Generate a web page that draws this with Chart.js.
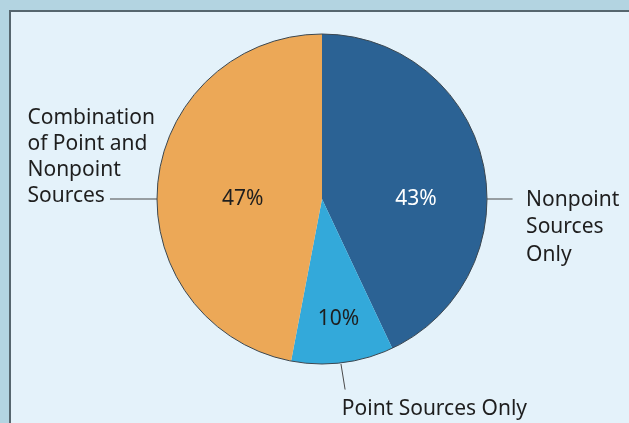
<!DOCTYPE html>
<html>
<head>
<meta charset="utf-8">
<script src="https://cdn.jsdelivr.net/npm/chart.js@4"></script>
<style>
  html, body { margin: 0; padding: 0; }
  body { width: 629px; height: 423px; background: #b3d4e1; position: relative; overflow: hidden; }
  #panel { position: absolute; left: 9px; top: 10px; right: -5px; bottom: -5px; background: #e4f2fa;
           border-left: 2px solid #56666e; border-top: 2px solid #56666e; }
  #wrap { position: absolute; left: 0; top: 0; width: 629px; height: 423px; }
</style>
</head>
<body>
<div id="panel"></div>
<div id="wrap"><canvas id="pie"></canvas></div>
<script>
const categories = ['Nonpoint Sources Only', 'Point Sources Only', 'Combination of Point and Nonpoint Sources'];
const values = [43, 10, 47];
const colors = ['#2b6294', '#33a9da', '#eca857'];
const pctColors = ['#ffffff', '#1e1e1e', '#1e1e1e'];

// label placement relative to the pie centre, in units of the radius
const pctPos = [[0.57, 0.0], [0.10, 0.73], [-0.48, 0.0]];
const outerLabels = [
  { lines: ['Nonpoint', 'Sources', 'Only'], text: [1.237, 0.005], lead: [[1.0, 0.0], [1.155, 0.0]], lh: 27.5 },
  { lines: ['Point Sources Only'], text: [0.12, 1.27], lead: [[0.115, 1.0], [0.14, 1.155]], lh: 26 },
  { lines: ['Combination', 'of Point and', 'Nonpoint', 'Sources'], text: [-1.785, -0.49], lead: [[-1.0, 0.0], [-1.285, 0.0]], lh: 26 }
];

const FONT = '21px "Noto Sans", "Open Sans", sans-serif';

const labelPlugin = {
  id: 'labels',
  afterDatasetsDraw(chart) {
    const ctx = chart.ctx;
    const arcs = chart.getDatasetMeta(0).data;
    const cx = arcs[0].x, cy = arcs[0].y, r = arcs[0].outerRadius;

    // outer rim
    ctx.save();
    ctx.beginPath();
    ctx.arc(cx, cy, r, 0, Math.PI * 2);
    ctx.strokeStyle = '#3b4750';
    ctx.lineWidth = 1;
    ctx.stroke();

    ctx.font = FONT;
    ctx.textBaseline = 'middle';
    ctx.textAlign = 'center';
    values.forEach((v, i) => {
      ctx.fillStyle = pctColors[i];
      ctx.fillText(v + '%', cx + pctPos[i][0] * r, cy + pctPos[i][1] * r);
    });

    ctx.textAlign = 'left';
    outerLabels.forEach(l => {
      ctx.beginPath();
      ctx.moveTo(cx + l.lead[0][0] * r, cy + l.lead[0][1] * r);
      ctx.lineTo(cx + l.lead[1][0] * r, cy + l.lead[1][1] * r);
      ctx.strokeStyle = '#4a4a4a';
      ctx.lineWidth = 1;
      ctx.stroke();
      ctx.fillStyle = '#1e1e1e';
      l.lines.forEach((t, k) => {
        ctx.fillText(t, cx + l.text[0] * r, cy + l.text[1] * r + k * l.lh);
      });
    });
    ctx.restore();
  }
};

new Chart(document.getElementById('pie'), {
  type: 'pie',
  data: {
    labels: categories,
    datasets: [{
      data: values,
      backgroundColor: colors,
      borderWidth: 0
    }]
  },
  options: {
    responsive: true,
    maintainAspectRatio: false,
    animation: false,
    layout: { padding: { left: 15, right: 0, top: 34, bottom: 59 } },
    plugins: { legend: { display: false }, tooltip: { enabled: false } }
  },
  plugins: [labelPlugin]
});
</script>
</body>
</html>
